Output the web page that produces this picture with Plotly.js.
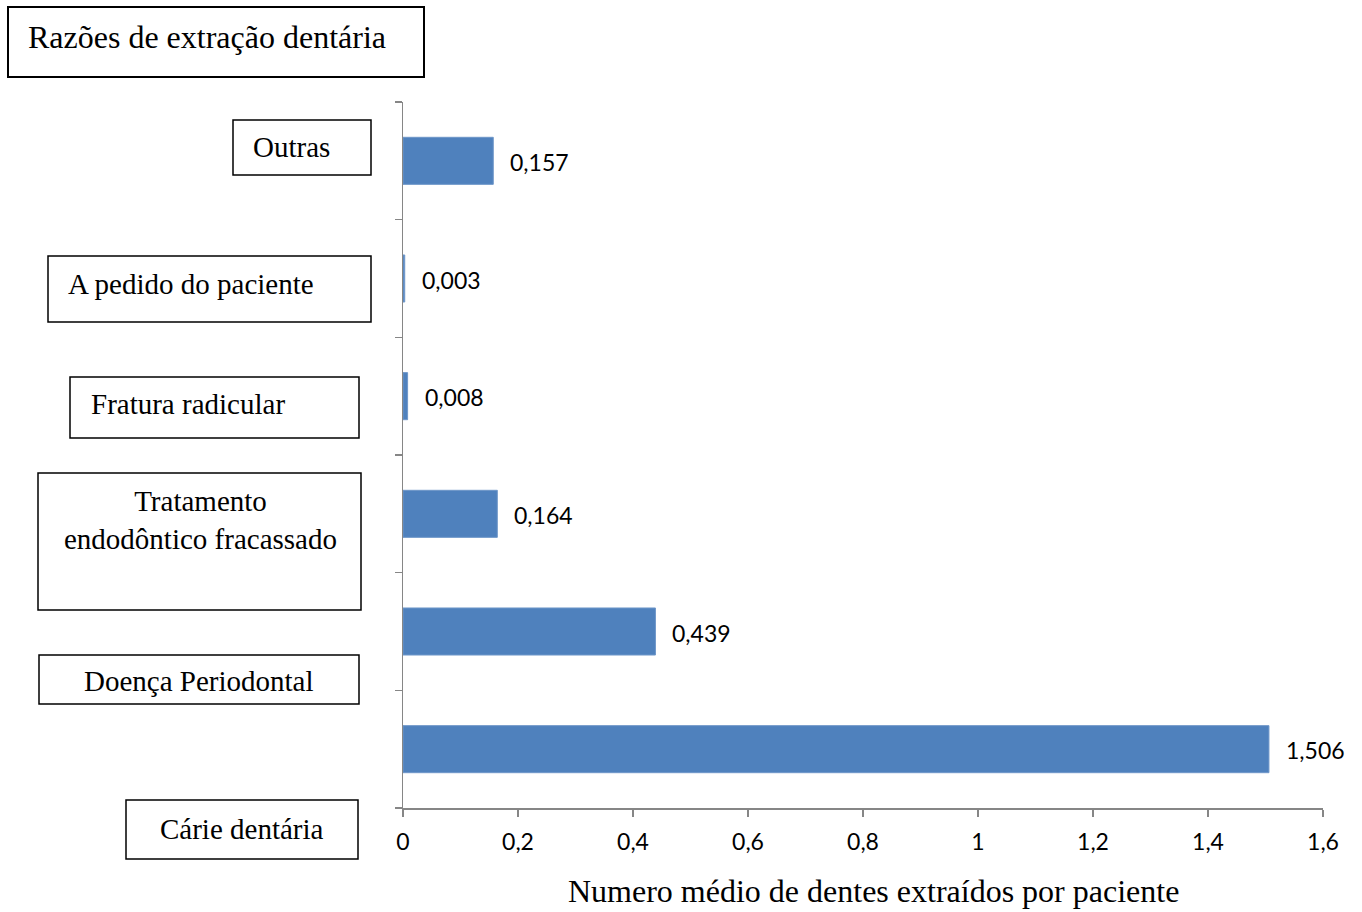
<!DOCTYPE html>
<html>
<head>
<meta charset="utf-8">
<script src="https://cdn.plot.ly/plotly-3.0.1.min.js"></script>
<style>
  html, body { margin: 0; padding: 0; background: #fff; }
  #chart { width: 1362px; height: 912px; }
</style>
</head>
<body>
<div id="chart"></div>
<script>
// Reasons for tooth extraction, listed bottom to top
const categories = [
  'Cárie dentária',
  'Doença Periodontal',
  'Tratamento endodôntico fracassado',
  'Fratura radicular',
  'A pedido do paciente',
  'Outras'
];
// Mean number of extracted teeth per patient
const meanExtracted = [1.506, 0.439, 0.164, 0.008, 0.003, 0.157];
const xTickValues = [0, 0.2, 0.4, 0.6, 0.8, 1, 1.2, 1.4, 1.6];

const chartTitle = 'Razões de extração dentária';
const xAxisTitle = 'Numero médio de dentes extraídos por paciente';

// Page geometry (pixels)
const W = 1362, H = 912;
const M = { l: 403, r: 39, t: 102, b: 104 };
const PW = W - M.l - M.r, PH = H - M.t - M.b;
const px = x => (x - M.l) / PW;
const py = y => (H - M.b - y) / PH;

// Framed label boxes: [x0, y0, x1, y1], text anchor point and alignment
const labelFrames = [
  { box: [126, 800, 358, 859], tx: 242, ty: 829, anchor: 'center' },
  { box: [39, 655, 359, 704],  tx: 199, ty: 681, anchor: 'center' },
  { box: [38, 473, 361, 610],  tx: 200, ty: 520, anchor: 'center' },
  { box: [70, 377, 359, 438],  tx: 89,  ty: 404, anchor: 'left' },
  { box: [48, 256, 371, 322],  tx: 66,  ty: 284, anchor: 'left' },
  { box: [233, 120, 371, 175], tx: 291, ty: 147, anchor: 'center' }
];
const titleFrame = { box: [8, 7, 424, 77], tx: 26, ty: 37 };
const axisTitlePos = { tx: 873, ty: 891 };

const serif = 'Liberation Serif, Times New Roman, serif';
const sans = 'Lato, Open Sans, sans-serif';
const axisGray = '#868686';
const barBlue = '#4F81BD';

const fmt = v => v.toFixed(3).replace('.', ',');

const trace = {
  type: 'bar',
  orientation: 'h',
  x: meanExtracted,
  y: categories,
  marker: { color: barBlue, line: { color: '#6f97c9', width: 1 } },
  hoverinfo: 'x+y'
};

const shapes = [];
const annotations = [];

function frame(f, lw) {
  shapes.push({
    type: 'rect', xref: 'paper', yref: 'paper',
    x0: px(f.box[0]), x1: px(f.box[2]),
    y0: py(f.box[3]), y1: py(f.box[1]),
    line: { color: '#000', width: lw }, fillcolor: 'rgba(0,0,0,0)'
  });
}

// Title box
frame(titleFrame, 2);
annotations.push({
  xref: 'paper', yref: 'paper', x: px(titleFrame.tx), y: py(titleFrame.ty),
  xanchor: 'left', yanchor: 'middle', showarrow: false,
  text: chartTitle, font: { family: serif, size: 32, color: '#000' }
});

// Category label boxes
categories.forEach((c, i) => {
  const f = labelFrames[i];
  frame(f, 1.5);
  annotations.push({
    xref: 'paper', yref: 'paper', x: px(f.tx), y: py(f.ty),
    xanchor: f.anchor, yanchor: 'middle', align: 'center', showarrow: false,
    text: c.replace('Tratamento ', 'Tratamento<br>'),
    font: { family: serif, size: 29, color: '#000' }
  });
});

// Value labels to the right of each bar
meanExtracted.forEach((v, i) => {
  annotations.push({
    xref: 'x', yref: 'y', x: v, y: categories[i],
    xanchor: 'left', yanchor: 'middle', xshift: 15, yshift: -1, showarrow: false,
    text: fmt(v), font: { family: sans, size: 23, color: '#000' }
  });
});

// Horizontal axis title
annotations.push({
  xref: 'paper', yref: 'paper', x: px(axisTitlePos.tx), y: py(axisTitlePos.ty),
  xanchor: 'center', yanchor: 'middle', showarrow: false,
  text: xAxisTitle, font: { family: serif, size: 32, color: '#000' }
});

const layout = {
  width: W, height: H,
  margin: M,
  paper_bgcolor: '#fff', plot_bgcolor: '#fff',
  separators: ', ',
  showlegend: false,
  bargap: 0.6,
  xaxis: {
    range: [0, 1.6],
    tickvals: xTickValues,
    ticks: 'outside', ticklen: 7, tickwidth: 1.5, tickcolor: axisGray,
    ticklabelstandoff: 6,
    showline: true, linecolor: axisGray, linewidth: 1.5,
    showgrid: false, zeroline: false,
    tickfont: { family: sans, size: 23, color: '#000' }
  },
  yaxis: {
    type: 'category',
    categoryorder: 'array', categoryarray: categories,
    tickson: 'boundaries',
    ticks: 'outside', ticklen: 7, tickwidth: 1.5, tickcolor: axisGray,
    showline: true, linecolor: axisGray, linewidth: 1.5,
    showgrid: false, zeroline: false,
    showticklabels: false
  },
  shapes: shapes,
  annotations: annotations
};

Plotly.newPlot('chart', [trace], layout, { displayModeBar: false, staticPlot: true });
</script>
</body>
</html>
